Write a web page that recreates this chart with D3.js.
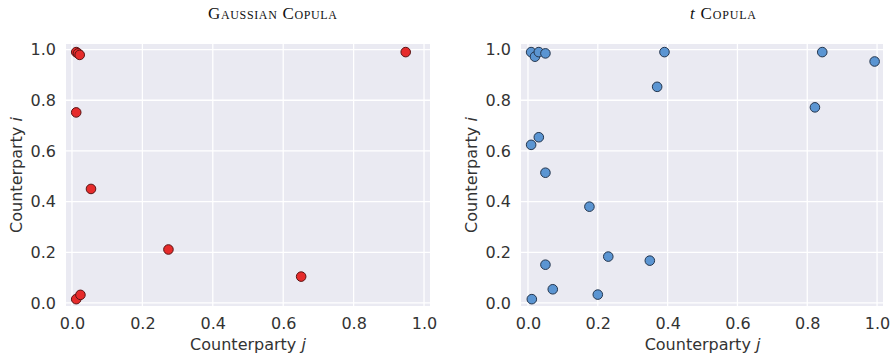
<!DOCTYPE html>
<html>
<head>
<meta charset="utf-8">
<script src="https://cdn.jsdelivr.net/npm/d3@7"></script>
<style>
  body { margin: 0; background: #fff; }
  svg text { font-family: "DejaVu Sans", sans-serif; }
</style>
</head>
<body>
<svg id="chart" width="892" height="356"></svg>
<script>
// Gaussian copula sample (counterparty j, counterparty i)
const gaussX = [0.012, 0.017, 0.022, 0.948, 0.012, 0.054, 0.274, 0.651, 0.012, 0.024];
const gaussY = [0.990, 0.985, 0.979, 0.990, 0.752, 0.450, 0.211, 0.104, 0.015, 0.032];

// t copula sample
const tX = [0.009, 0.020, 0.031, 0.050, 0.391, 0.370, 0.843, 0.993, 0.822, 0.031, 0.009, 0.050,
            0.176, 0.050, 0.230, 0.349, 0.071, 0.200, 0.011];
const tY = [0.990, 0.972, 0.990, 0.985, 0.990, 0.853, 0.990, 0.953, 0.772, 0.654, 0.624, 0.514,
            0.380, 0.151, 0.183, 0.167, 0.054, 0.033, 0.015];

const tickValues = [0, 0.2, 0.4, 0.6, 0.8, 1.0];

const svg = d3.select("#chart");

const panels = [
  { left: 66, right: 430, xDomain: [-0.017, 1.017], xs: gaussX, ys: gaussY,
    fill: "#e62b2b", stroke: "#5a1414", title: "gauss", titleX: 208, titleW: 129, ylabX: 22 },
  { left: 521, right: 883, xDomain: [-0.02, 1.017], xs: tX, ys: tY,
    fill: "#5b95d2", stroke: "#24364e", title: "t", titleX: 690, titleW: 66, ylabX: 477 }
];

const plotTop = 44, plotBottom = 306;

panels.forEach(p => {
  const x = d3.scaleLinear().domain(p.xDomain).range([p.left, p.right]);
  const y = d3.scaleLinear().domain([-0.012, 1.022]).range([plotBottom, plotTop]);

  const g = svg.append("g");

  g.append("rect")
    .attr("x", p.left).attr("y", plotTop)
    .attr("width", p.right - p.left).attr("height", plotBottom - plotTop)
    .attr("fill", "#eaeaf2");

  // grid
  g.selectAll(".vg").data(tickValues).join("line")
    .attr("x1", d => x(d)).attr("x2", d => x(d))
    .attr("y1", plotTop).attr("y2", plotBottom)
    .attr("stroke", "#fff").attr("stroke-width", 1.3);
  g.selectAll(".hg").data(tickValues).join("line")
    .attr("y1", d => y(d)).attr("y2", d => y(d))
    .attr("x1", p.left).attr("x2", p.right)
    .attr("stroke", "#fff").attr("stroke-width", 1.3);

  // axes
  const xAxis = g.append("g")
    .attr("transform", `translate(0,${plotBottom})`)
    .call(d3.axisBottom(x).tickValues(tickValues).tickFormat(d3.format(".1f"))
      .tickSize(0).tickPadding(12));
  const yAxis = g.append("g")
    .attr("transform", `translate(${p.left},0)`)
    .call(d3.axisLeft(y).tickValues(tickValues).tickFormat(d3.format(".1f"))
      .tickSize(0).tickPadding(10));
  [xAxis, yAxis].forEach(a => {
    a.select(".domain").remove();
    a.selectAll("text")
      .attr("font-family", "DejaVu Sans, sans-serif")
      .attr("font-size", 16)
      .attr("fill", "#333");
  });

  // axis labels
  const xl = g.append("text")
    .attr("x", (x(0) + x(1)) / 2).attr("y", 350)
    .attr("text-anchor", "middle")
    .attr("font-size", 16).attr("fill", "#333");
  xl.append("tspan").text("Counterparty ");
  xl.append("tspan").attr("font-style", "italic").text("j");

  const yl = g.append("text")
    .attr("transform", `translate(${p.ylabX},${(plotTop + plotBottom) / 2}) rotate(-90)`)
    .attr("text-anchor", "middle")
    .attr("font-size", 16).attr("fill", "#333");
  yl.append("tspan").text("Counterparty ");
  yl.append("tspan").attr("font-style", "italic").text("i");

  // title (small caps, stretched to the width seen in the figure)
  const t = g.append("text")
    .attr("x", p.titleX).attr("y", 19)
    .attr("textLength", p.titleW).attr("lengthAdjust", "spacing")
    .style("font-family", "'Liberation Serif', 'Times New Roman', serif")
    .attr("font-size", 17).attr("fill", "#111");
  if (p.title === "gauss") {
    t.append("tspan").style("font-variant", "small-caps").text("Gaussian Copula");
  } else {
    t.append("tspan").attr("font-style", "italic").text("t");
    t.append("tspan").style("font-variant", "small-caps").text(" Copula");
  }

  // points
  g.selectAll("circle").data(d3.range(p.xs.length)).join("circle")
    .attr("cx", i => x(p.xs[i]))
    .attr("cy", i => y(p.ys[i]))
    .attr("r", 4.8)
    .attr("fill", p.fill)
    .attr("stroke", p.stroke)
    .attr("stroke-width", 1);
});
</script>
</body>
</html>
